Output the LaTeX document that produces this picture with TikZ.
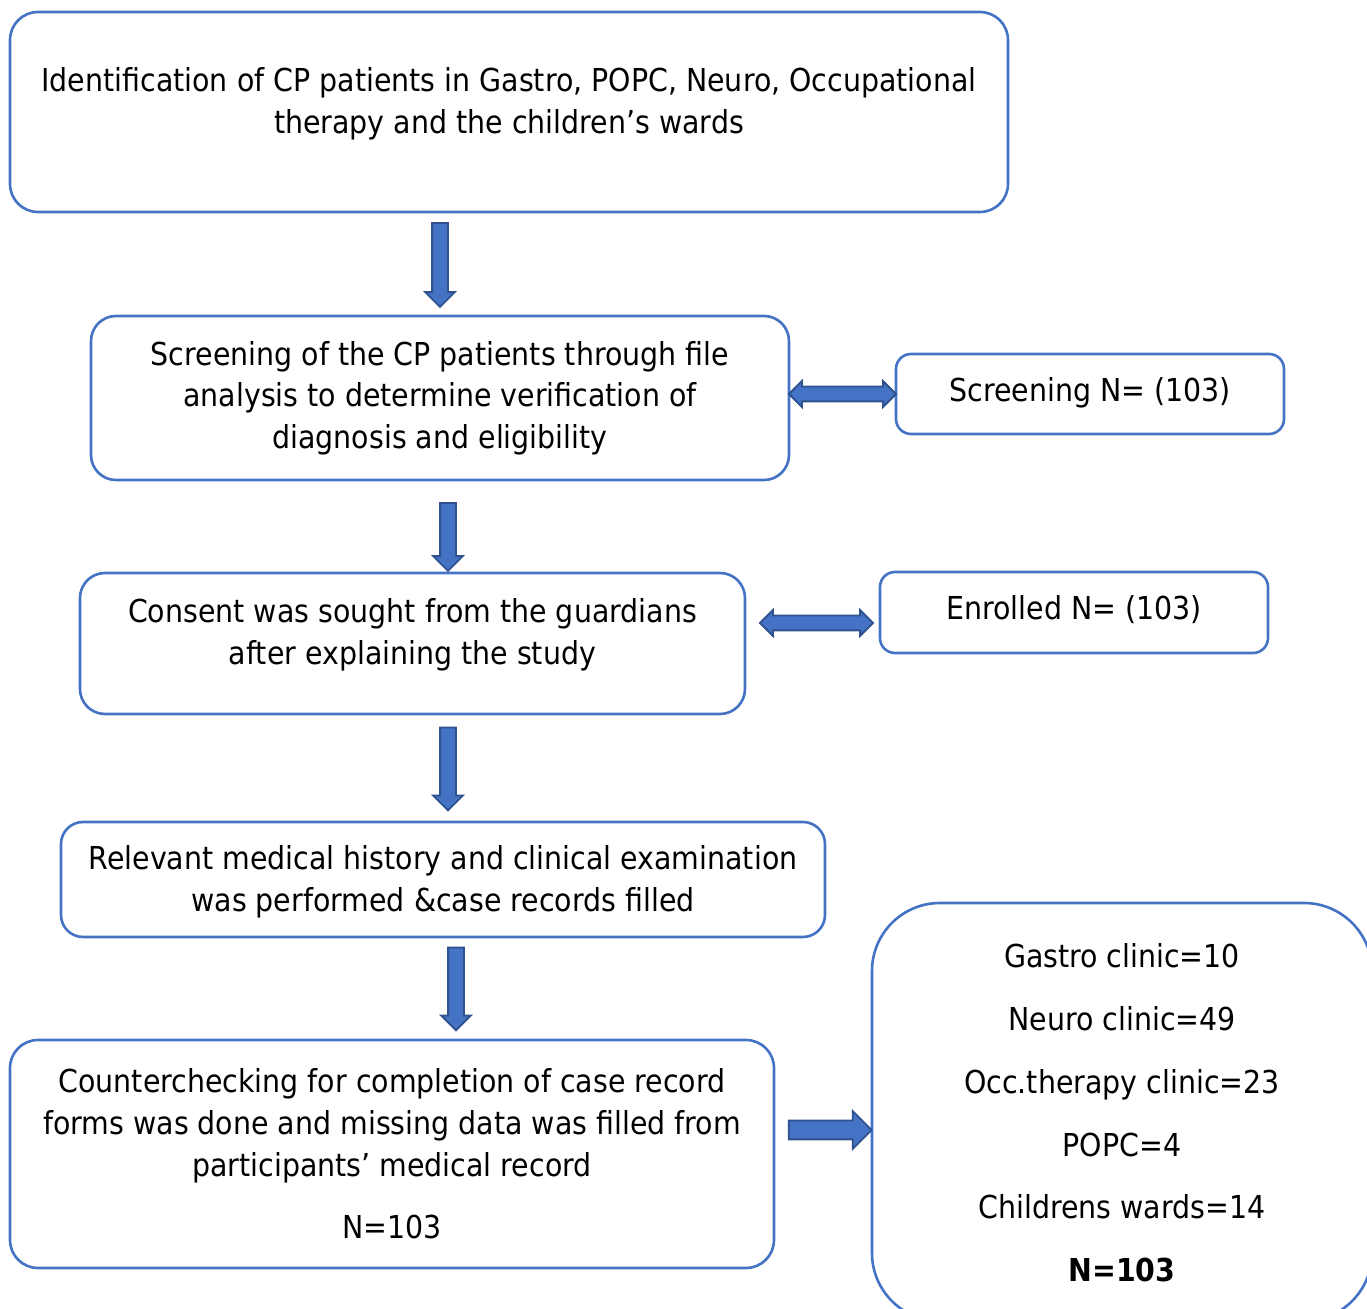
\documentclass[tikz,border=0pt]{standalone}
\usepackage{fontspec}
\setmainfont{DejaVu Sans}[FakeStretch=0.9]
\usepackage{tikz}
\usetikzlibrary{shapes.arrows}
\usetikzlibrary{positioning}

\definecolor{boxblue}{RGB}{68,114,196}
\definecolor{arrowedge}{RGB}{47,82,143}

\begin{document}
\begin{tikzpicture}[x=0.5pt,y=-0.5pt,
		box/.style={rectangle,draw=boxblue,line width=1.3pt,inner sep=0pt},
		txt/.style={align=center,inner sep=0pt,font=\fontsize{15.8}{20.8}\selectfont},
		downarr/.style={single arrow,draw=arrowedge,fill=boxblue,line width=0.9pt,inner xsep=0pt,
			inner ysep=3.5pt,single arrow head extend=3.5pt,rotate=-90},
		bothways/.style={double arrow,draw=arrowedge,fill=boxblue,line width=0.9pt,inner xsep=0pt,
			inner ysep=3.25pt,double arrow head extend=2.75pt}]
		\useasboundingbox (0,0) rectangle (1367,1309);
		\clip (0,0) rectangle (1367,1309);
		
		% main column
		\node[box,rounded corners=14pt,minimum width=499pt,minimum height=100pt] (ident) at (509,112) {};
		\node[txt] (identtxt) at (509,104) {Identification of CP patients in Gastro, POPC, Neuro, Occupational\\therapy and the children’s wards};
		
		\node[box,rounded corners=12.5pt,minimum width=349pt,minimum height=82pt] (screen) at (440,398)
			{\parbox{340pt}{\centering\fontsize{15.8}{20.8}\selectfont Screening of the CP patients through file\\analysis to determine verification of\\diagnosis and eligibility}};
		
		\node[box,rounded corners=12.5pt,minimum width=332.5pt,minimum height=70.5pt] (consent) at (412.5,643.5) {};
		\node[txt] (consenttxt) at (412.5,635) {Consent was sought from the guardians\\after explaining the study};
		
		\node[box,rounded corners=11pt,minimum width=382pt,minimum height=57.5pt] (history) at (443,879.5) {};
		\node[txt] (historytxt) at (443,882) {Relevant medical history and clinical examination\\was performed \&case records filled};
		
		\node[box,rounded corners=14pt,minimum width=382pt,minimum height=114pt] (counter) at (392,1154)
			{\parbox{380pt}{\centering\fontsize{15.8}{20.8}\selectfont Counterchecking for completion of case record\\forms was done and missing data was filled from\\participants’ medical record\\[10.5pt]N=103}};
		
		% side boxes
		\node[box,rounded corners=7.5pt,minimum width=194pt,minimum height=40pt] (nscreen) at (1090,394) {};
		\node[txt] (nscreentxt) at (1090,393) {Screening N= (103)};
		\node[box,rounded corners=7.5pt,minimum width=194pt,minimum height=40.5pt] (nenrol) at (1074,612.5) {};
		\node[txt] (nenroltxt) at (1074,610) {Enrolled N= (103)};
		
		\node[box,rounded corners=34pt,minimum width=250pt,minimum height=209pt] (clinics) at (1122,1112) {};
		\node[txt] (clinicstxt) at (1122,1113) {Gastro clinic=10\\[10.6pt]Neuro clinic=49\\[10.6pt]Occ.therapy clinic=23\\[10.6pt]POPC=4\\[10.6pt]Childrens wards=14\\[10.6pt]\textbf{N=103}};
		
		% block arrows
		\node[downarr,minimum height=42pt] (a1) at (440,261) {};
		\node[downarr,minimum height=34pt] (a2) at (448,533) {};
		\node[downarr,minimum height=41.5pt] (a3) at (448,765) {};
		\node[downarr,minimum height=41.5pt] (a4) at (456,985) {};
		\node[bothways,minimum height=53.5pt] (b1) at (842.5,394) {};
		\node[bothways,minimum height=56.5pt] (b2) at (816.5,623) {};
		\node[single arrow,draw=arrowedge,fill=boxblue,line width=0.9pt,inner xsep=0pt,inner ysep=4.25pt,
			single arrow head extend=4.75pt,minimum height=41.5pt] (r1) at (825.5,1130) {};
\end{tikzpicture}
\end{document}
